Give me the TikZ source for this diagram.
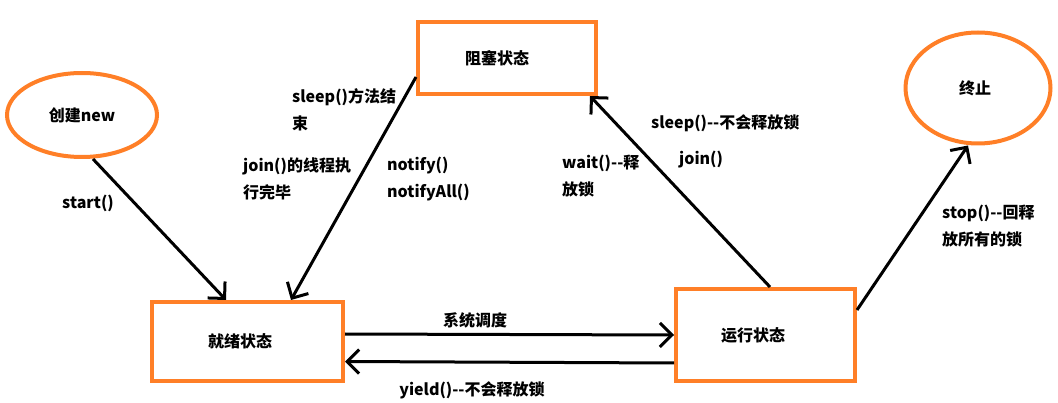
\documentclass[tikz,border=0pt]{standalone}
\usepackage{fontspec}
\setmainfont{Noto Sans CJK SC}
\usetikzlibrary{arrows.meta,shapes.geometric}
\definecolor{boxorange}{RGB}{255,127,39}
\begin{document}
\begin{tikzpicture}[x=1pt,y=-1pt,
  every node/.style={font=\fontsize{16}{27}\selectfont\bfseries, text=black},
  statebox/.style={draw=boxorange, line width=4pt, rectangle, inner sep=0pt},
  stateell/.style={draw=boxorange, line width=4pt, ellipse, inner sep=0pt},
  lbl/.style={anchor=west, inner sep=0pt, align=left},
  conn/.style={draw=black, line width=3pt, -{Straight Barb[length=12pt,width=24pt,line width=3pt]}}
]
\useasboundingbox (0,0) rectangle (1058,403);
% states
\node[stateell, minimum width=150pt, minimum height=84pt] (cj) at (82,115) {创建new};
\node[stateell, minimum width=145pt, minimum height=111pt] (zz) at (978,88) {终止\hspace*{6pt}};
\node[statebox, minimum width=178pt, minimum height=72pt] (zs) at (507,58) {阻塞状态\hspace*{20pt}};
\node[statebox, minimum width=191pt, minimum height=79pt] (jx) at (247.5,341.5) {就绪状态\hspace*{15pt}};
\node[statebox, minimum width=179pt, minimum height=92pt] (yx) at (765.5,335) {运行状态\hspace*{25pt}};
% connectors
\draw[conn] ([xshift=11pt]cj.south) -- ([xshift=-21.5pt]jx.north);
\draw[conn] ([yshift=-19pt]zs.west) -- ([xshift=43.5pt]jx.north);
\draw[conn] ([xshift=4.5pt]yx.north) -- ([xshift=-8pt]zs.south east);
\draw[conn] ([yshift=7.5pt]jx.east) -- (yx.west);
\draw[conn] ([yshift=-28pt]yx.west) -- ([yshift=-20pt]jx.east);
\draw[conn] ([yshift=25pt]yx.east) -- ([xshift=-10pt]zz.south);
% labels
\node[lbl] (l1) at (62,203) {start()};
\node[lbl] (l2) at (292,109.5) {sleep()方法结\\束};
\node[lbl] (l3) at (243,179) {join()的线程执\\行完毕};
\node[lbl] (l4) at (387,179) {notify()\\notifyAll()};
\node[lbl] (l5) at (562,176.5) {wait()-{}-释\\放锁};
\node[lbl] (l6) at (651,123) {sleep()-{}-不会释放锁};
\node[lbl] (l7) at (679,160) {join()};
\node[inner sep=0pt] (l8) at (475,320) {系统调度};
\node[inner sep=0pt] (l9) at (472,390) {yield()-{}-不会释放锁};
\node[lbl] (l10) at (942,226) {stop()-{}-回释\\放所有的锁};
\end{tikzpicture}
\end{document}
